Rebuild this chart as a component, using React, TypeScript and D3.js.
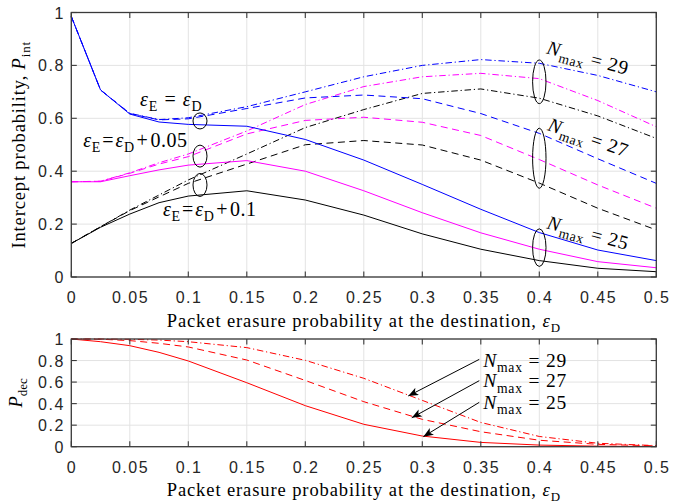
import React from 'react';
import * as d3 from 'd3';

// ---------- data ----------
const eps = [0, 0.025, 0.05, 0.075, 0.1, 0.15, 0.2, 0.25, 0.3, 0.35, 0.4, 0.45, 0.5];

// Intercept probability, eps_E = eps_D (blue)
const blue25 = [0.985, 0.707, 0.616, 0.586, 0.577, 0.57, 0.52, 0.442, 0.35, 0.256, 0.168, 0.102, 0.062];
const blue27 = [0.985, 0.707, 0.618, 0.594, 0.598, 0.637, 0.677, 0.688, 0.674, 0.618, 0.543, 0.447, 0.354];
const blue29 = [0.985, 0.707, 0.619, 0.595, 0.602, 0.644, 0.7, 0.757, 0.8, 0.822, 0.808, 0.762, 0.7];
// eps_E = eps_D + 0.05 (magenta)
const mag25 = [0.36, 0.36, 0.383, 0.405, 0.423, 0.44, 0.4, 0.326, 0.243, 0.167, 0.105, 0.058, 0.035];
const mag27 = [0.36, 0.362, 0.392, 0.427, 0.455, 0.541, 0.592, 0.604, 0.585, 0.535, 0.444, 0.348, 0.26];
const mag29 = [0.36, 0.362, 0.394, 0.432, 0.465, 0.552, 0.652, 0.72, 0.757, 0.77, 0.75, 0.667, 0.568];
// eps_E = eps_D + 0.1 (black)
const blk25 = [0.127, 0.188, 0.238, 0.281, 0.306, 0.326, 0.291, 0.234, 0.163, 0.105, 0.062, 0.033, 0.02];
const blk27 = [0.127, 0.19, 0.251, 0.303, 0.354, 0.427, 0.5, 0.516, 0.499, 0.442, 0.355, 0.26, 0.178];
const blk29 = [0.127, 0.19, 0.253, 0.31, 0.367, 0.465, 0.565, 0.633, 0.694, 0.711, 0.676, 0.609, 0.524];

// Decoding probability (red)
const dec25 = [1, 0.975, 0.938, 0.876, 0.796, 0.594, 0.381, 0.208, 0.099, 0.04, 0.015, 0.005, 0.002];
const dec27 = [1, 0.998, 0.985, 0.96, 0.926, 0.805, 0.615, 0.418, 0.254, 0.139, 0.06, 0.022, 0.008];
const dec29 = [1, 1, 0.997, 0.99, 0.975, 0.92, 0.802, 0.635, 0.43, 0.225, 0.095, 0.032, 0.01];

const xTickVals = [0, 0.05, 0.1, 0.15, 0.2, 0.25, 0.3, 0.35, 0.4, 0.45, 0.5];
const xTickLabels = ['0', '0.05', '0.1', '0.15', '0.2', '0.25', '0.3', '0.35', '0.4', '0.45', '0.5'];
const yTickVals = [0, 0.2, 0.4, 0.6, 0.8, 1];
const yTickLabels = ['0', '0.2', '0.4', '0.6', '0.8', '1'];

const nmaxLabels = ['29', '27', '25'];

// ---------- layout ----------
const W = 689, H = 504;
const L = 71.3, R = 656.3;
const T1 = 12.5, B1 = 277;
const T2 = 339, B2 = 446.7;

const SERIF = '"Liberation Serif", "Times New Roman", serif';
const SANS = '"Liberation Sans", Arial, sans-serif';
const FS = 18.5;
const AFS = 20;

const DASH = { solid: undefined as any, dashed: '7,4.5', dashdot: '6.5,2.8,1.2,2.8' };

type Part = { t: string; i?: boolean; sub?: boolean; dx?: number };

function MathText(props: {
  x?: number; y?: number; parts: Part[]; size?: number; anchor?: string; transform?: string; ls?: number;
}) {
  const size = props.size ?? FS;
  const shift = size * 0.27;
  let shifted = false;
  return (
    <text
      x={props.x}
      y={props.y}
      transform={props.transform}
      textAnchor={props.anchor ?? 'start'}
      fontFamily={SERIF}
      fontSize={size}
      fill="#000"
      style={{ whiteSpace: 'pre', letterSpacing: `${props.ls ?? 0}px` }}
    >
      {props.parts.map((p, k) => {
        let dy = 0;
        if (p.sub && !shifted) { dy = shift; shifted = true; }
        else if (!p.sub && shifted) { dy = -shift; shifted = false; }
        return (
          <tspan key={k} dy={dy || undefined} dx={p.dx}
            fontStyle={p.i ? 'italic' : 'normal'}
            fontSize={p.sub ? size * 0.7 : size}>
            {p.t}
          </tspan>
        );
      })}
    </text>
  );
}

function Grid({ y, top, bottom }: { y: d3.ScaleLinear<number, number>; top: number; bottom: number }) {
  const x = d3.scaleLinear().domain([0, 0.5]).range([L, R]);
  return (
    <g>
      {xTickVals.map((v, k) => (
        <line key={'gx' + k} x1={x(v)} x2={x(v)} y1={top} y2={bottom} stroke="#e3e3e3" strokeWidth={1} />
      ))}
      {yTickVals.map((v, k) => (
        <line key={'gy' + k} x1={L} x2={R} y1={y(v)} y2={y(v)} stroke="#e3e3e3" strokeWidth={1} />
      ))}
    </g>
  );
}

function Frame({ y, top, bottom }: { y: d3.ScaleLinear<number, number>; top: number; bottom: number }) {
  const x = d3.scaleLinear().domain([0, 0.5]).range([L, R]);
  const tl = 5.5;
  const c = '#3a3a3a';
  return (
    <g>
      <rect x={L} y={top} width={R - L} height={bottom - top} fill="none" stroke={c} strokeWidth={1.3} />
      {xTickVals.map((v, k) => (
        <g key={'tx' + k}>
          <line x1={x(v)} x2={x(v)} y1={bottom} y2={bottom - tl} stroke={c} strokeWidth={1.1} />
          <line x1={x(v)} x2={x(v)} y1={top} y2={top + tl} stroke={c} strokeWidth={1.1} />
          <text x={x(v) + 0.75} y={bottom + 26} textAnchor="middle" fontFamily={SANS} fontSize={16}
            fill="#262626" style={{ letterSpacing: '1.5px' }}>{xTickLabels[k]}</text>
        </g>
      ))}
      {yTickVals.map((v, k) => (
        <g key={'ty' + k}>
          <line x1={L} x2={L + tl} y1={y(v)} y2={y(v)} stroke={c} strokeWidth={1.1} />
          <line x1={R} x2={R - tl} y1={y(v)} y2={y(v)} stroke={c} strokeWidth={1.1} />
          <text x={L - 6.5} y={y(v) + 6} textAnchor="end" fontFamily={SANS} fontSize={16}
            fill="#262626" style={{ letterSpacing: '1.5px' }}>{yTickLabels[k]}</text>
        </g>
      ))}
    </g>
  );
}

export default function App() {
  const x = d3.scaleLinear().domain([0, 0.5]).range([L, R]);
  const y1 = d3.scaleLinear().domain([0, 1]).range([B1, T1]);
  const y2 = d3.scaleLinear().domain([0, 1]).range([B2, T2]);
  const line1 = d3.line<number>().x((_, i) => x(eps[i])).y(d => y1(d));
  const line2 = d3.line<number>().x((_, i) => x(eps[i])).y(d => y2(d));

  const topSeries = [
    { d: blk29, c: '#000000', s: DASH.dashdot },
    { d: blk27, c: '#000000', s: DASH.dashed },
    { d: blk25, c: '#000000', s: DASH.solid },
    { d: mag29, c: '#ff00ff', s: DASH.dashdot },
    { d: mag27, c: '#ff00ff', s: DASH.dashed },
    { d: mag25, c: '#ff00ff', s: DASH.solid },
    { d: blue29, c: '#0000ff', s: DASH.dashdot },
    { d: blue27, c: '#0000ff', s: DASH.dashed },
    { d: blue25, c: '#0000ff', s: DASH.solid },
  ];
  const botSeries = [
    { d: dec29, s: DASH.dashdot },
    { d: dec27, s: DASH.dashed },
    { d: dec25, s: DASH.solid },
  ];

  const epsD: Part[] = [{ t: 'ε', i: true }, { t: 'D', sub: true }];
  const xTitle: Part[] = [{ t: 'Packet erasure probability at the destination, ' }, ...epsD];

  const leftEll = [
    { cx: 0.11, cy: 0.59, ry: 8 },
    { cx: 0.11, cy: 0.457, ry: 11 },
    { cx: 0.11, cy: 0.348, ry: 11.5 },
  ];
  const rightEll = [
    { cx: 0.4, cy: 0.738, ry: 21.8 },
    { cx: 0.4, cy: 0.449, ry: 30 },
    { cx: 0.4, cy: 0.111, ry: 18.8 },
  ];
  const rightLab = [
    { x: 0.4055, y: 0.8457, a: 15 },
    { x: 0.4063, y: 0.5558, a: 19 },
    { x: 0.4057, y: 0.184, a: 15 },
  ];
  const arrows = [
    { x0: 0.3487, y0: 0.811, x1: 0.288, y1: 0.471, tx: 0.352, ty: 0.743 },
    { x0: 0.3487, y0: 0.613, x1: 0.291, y1: 0.269, tx: 0.352, ty: 0.55 },
    { x0: 0.3487, y0: 0.412, x1: 0.3009, y1: 0.093, tx: 0.352, ty: 0.35 },
  ];

  const nmax = (n: string): Part[] => [{ t: 'N', i: true }, { t: 'max', sub: true }, { t: ' = ' + n }];

  return (
    <svg width={W} height={H} style={{ position: 'absolute', left: 0, top: 0, background: '#fff' }}>
      <defs>
        <marker id="ah" viewBox="0 0 10 8" refX={10} refY={4} markerWidth={10} markerHeight={8}
          markerUnits="userSpaceOnUse" orient="auto">
          <path d="M0,0 L10,4 L0,8 L2.5,4 Z" fill="#000" />
        </marker>
      </defs>
      <rect x={0} y={0} width={W} height={H} fill="#fff" />

      {/* ---- top panel ---- */}
      <Grid y={y1} top={T1} bottom={B1} />
      {topSeries.map((s, k) => (
        <path key={'t' + k} d={line1(s.d) || ''} fill="none" stroke={s.c} strokeWidth={1}
          strokeDasharray={s.s} />
      ))}
      <Frame y={y1} top={T1} bottom={B1} />
      {leftEll.map((e, k) => (
        <ellipse key={'le' + k} cx={x(e.cx)} cy={y1(e.cy)} rx={7} ry={e.ry} fill="none" stroke="#000" strokeWidth={1} />
      ))}
      {rightEll.map((e, k) => (
        <ellipse key={'re' + k} cx={x(e.cx)} cy={y1(e.cy)} rx={6.7} ry={e.ry} fill="none" stroke="#000" strokeWidth={1} />
      ))}
      <MathText x={x(0.0587)} y={y1(0.648)} size={AFS} ls={1}
        parts={[{ t: 'ε', i: true }, { t: 'E', sub: true }, { t: ' = ' }, ...epsD]} />
      <MathText x={x(0.0103)} y={y1(0.4926)} size={AFS} ls={0.5}
        parts={[{ t: 'ε', i: true }, { t: 'E', sub: true }, { t: '=', dx: 1.5 }, { t: 'ε', i: true, dx: 1.5 }, { t: 'D', sub: true }, { t: '+', dx: 2 }, { t: '0.05', dx: 2 }]} />
      <MathText x={x(0.0784)} y={y1(0.2306)} size={AFS} ls={0.5}
        parts={[{ t: 'ε', i: true }, { t: 'E', sub: true }, { t: '=', dx: 1.5 }, { t: 'ε', i: true, dx: 1.5 }, { t: 'D', sub: true }, { t: '+', dx: 2 }, { t: '0.1', dx: 2 }]} />
      {rightLab.map((r, k) => (
        <MathText key={'rl' + k} transform={`translate(${x(r.x)},${y1(r.y)}) rotate(${r.a})`} size={19.5} ls={0.8}
          parts={nmax(nmaxLabels[k])} />
      ))}
      <MathText x={(L + R) / 2} y={B1 + 50} anchor="middle" ls={0.9} parts={xTitle} />
      <MathText transform={`translate(25,${(T1 + B1) / 2}) rotate(-90)`} anchor="middle" ls={0.85}
        parts={[{ t: 'Intercept probability, ' }, { t: 'P', i: true }, { t: 'int', sub: true }]} />

      {/* ---- bottom panel ---- */}
      <Grid y={y2} top={T2} bottom={B2} />
      {botSeries.map((s, k) => (
        <path key={'b' + k} d={line2(s.d) || ''} fill="none" stroke="#ff0000" strokeWidth={1}
          strokeDasharray={s.s} />
      ))}
      <Frame y={y2} top={T2} bottom={B2} />
      {arrows.map((a, k) => (
        <g key={'ar' + k}>
          <line x1={x(a.x0)} y1={y2(a.y0)} x2={x(a.x1)} y2={y2(a.y1)} stroke="#000" strokeWidth={1} markerEnd="url(#ah)" />
          <MathText x={x(a.tx)} y={y2(a.ty)} size={19.5} ls={0.8} parts={nmax(nmaxLabels[k])} />
        </g>
      ))}
      <MathText x={(L + R) / 2} y={B2 + 49} anchor="middle" ls={0.9} parts={xTitle} />
      <MathText transform={`translate(21.7,${(T2 + B2) / 2}) rotate(-90)`} anchor="middle"
        parts={[{ t: 'P', i: true }, { t: 'dec', sub: true }]} />
    </svg>
  );
}
